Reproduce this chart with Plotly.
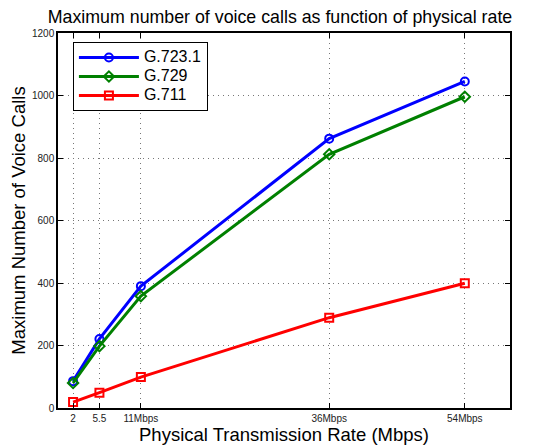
import plotly.graph_objects as go

rates = [2, 5.5, 11, 36, 54]
tick_labels = ["2", "5.5", "11Mbps", "36Mbps", "54Mbps"]
g7231 = [86, 221, 390, 862, 1045]
g729 = [80, 198, 358, 812, 996]
g711 = [19, 49, 99, 289, 399]

series = [
    ("G.723.1", g7231, "#0000ff", "circle-open"),
    ("G.729", g729, "#008000", "diamond-open"),
    ("G.711", g711, "#ff0000", "square-open"),
]

FONT = "Liberation Sans, Arial"

fig = go.Figure()
for name, vals, color, sym in series:
    fig.add_trace(go.Scatter(
        x=rates, y=vals, mode="lines+markers",
        name='<span style="font-size:16px">' + name + "</span>",
        line=dict(color=color, width=3),
        marker=dict(symbol=sym, size=8, color=color, line=dict(width=2, color=color)),
    ))

axis_common = dict(
    showline=True, linecolor="black", linewidth=1.5, mirror="ticks",
    ticks="inside", ticklen=5, tickcolor="black",
    showgrid=True, gridcolor="#777777", griddash="1px,4px", gridwidth=1,
    zeroline=False, automargin=False,
    tickfont=dict(family=FONT, size=10, color="#222222"),
)

fig.update_layout(
    width=544, height=439,
    margin=dict(l=50, r=42, t=25, b=39),
    paper_bgcolor="white", plot_bgcolor="white",
    title=dict(text="Maximum number of voice calls as function of physical rate",
               x=0.5, xanchor="center", y=0.979, yanchor="middle",
               font=dict(family=FONT, size=17.8, color="black")),
    xaxis=dict(range=[0, 60], tickmode="array", tickvals=rates, ticktext=tick_labels,
               title=dict(text="Physical Transmission Rate (Mbps)", standoff=0,
                          font=dict(family=FONT, size=18.5, color="black")),
               **axis_common),
    yaxis=dict(range=[0, 1200], tickmode="array", tickvals=[0, 200, 400, 600, 800, 1000, 1200],
               title=dict(text="Maximum Number of Voice Calls", standoff=7,
                          font=dict(family=FONT, size=18.5, color="black")),
               **axis_common),
    legend=dict(x=0.033, y=0.976, xanchor="left", yanchor="top",
                bgcolor="white", bordercolor="black", borderwidth=1,
                font=dict(family=FONT, size=11, color="black"),
                tracegroupgap=0, itemwidth=60,
                entrywidth=130, entrywidthmode="pixels"),
    showlegend=True,
)

fig.write_html("out.html")
